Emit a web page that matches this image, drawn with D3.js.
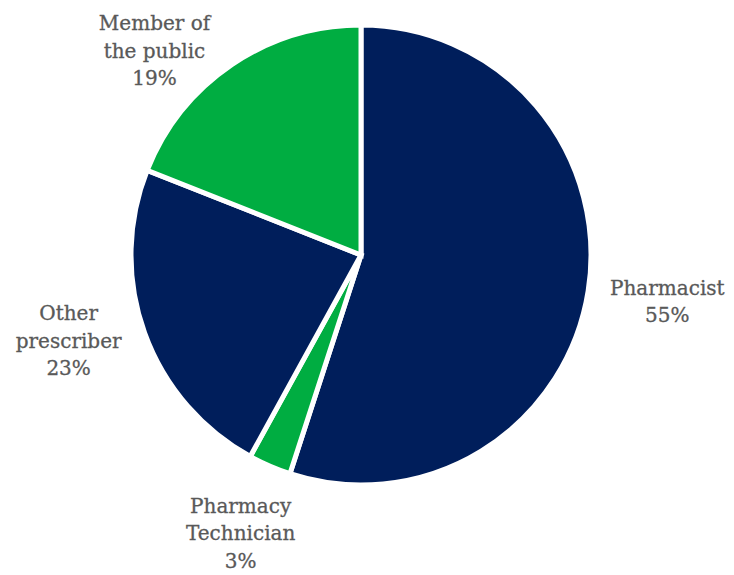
<!DOCTYPE html>
<html>
<head>
<meta charset="utf-8">
<script src="https://cdn.jsdelivr.net/npm/d3@7"></script>
<style>
  html, body { margin: 0; padding: 0; background: #ffffff; }
  svg { display: block; }
</style>
</head>
<body>
<svg id="chart" width="734" height="575"></svg>
<script>
// Who submitted the reports (share of total)
const categories = ["Pharmacist", "Pharmacy Technician", "Other prescriber", "Member of the public"];
const labelLines = [["Pharmacist"], ["Pharmacy", "Technician"], ["Other", "prescriber"], ["Member of", "the public"]];
const shares = [55, 3, 23, 19];
const sliceColors = ["#001e5b", "#00ad41", "#001e5b", "#00ad41"];

const width = 734, height = 575;
const cx = 361, cy = 255, radius = 230;
const labelRadius = 298;
const lineHeight = 27.5;

// small per-label nudges so labels sit clear of the pie edge
const nudge = {
  "Pharmacist": [12, 0],
  "Pharmacy Technician": [-2, 5],
  "Other prescriber": [-12, -15],
  "Member of the public": [-39, 42]
};

const svg = d3.select("#chart");
const g = svg.append("g").attr("transform", `translate(${cx},${cy})`);

const pie = d3.pie().sort(null).value(d => d.value);
const data = categories.map((c, i) => ({ name: c, value: shares[i], lines: labelLines[i], color: sliceColors[i] }));
const arcs = pie(data);

const arc = d3.arc().innerRadius(0).outerRadius(radius);

g.selectAll("path.slice")
  .data(arcs)
  .join("path")
  .attr("class", "slice")
  .attr("d", arc)
  .attr("fill", d => d.data.color)
  .attr("stroke", "#ffffff")
  .attr("stroke-width", 5)
  .attr("stroke-linejoin", "miter");

const labels = g.selectAll("text.label")
  .data(arcs)
  .join("text")
  .attr("class", "label")
  .attr("text-anchor", "middle")
  .attr("font-family", "'DejaVu Serif', 'Liberation Serif', serif")
  .attr("font-size", 20)
  .attr("fill", "#595959")
  .attr("stroke", "#595959")
  .attr("stroke-width", 0.3)
  .attr("transform", d => {
    const a = (d.startAngle + d.endAngle) / 2;
    const n = nudge[d.data.name] || [0, 0];
    const x = Math.sin(a) * labelRadius + n[0];
    const y = -Math.cos(a) * labelRadius + n[1];
    return `translate(${x},${y})`;
  });

labels.each(function(d) {
  const lines = d.data.lines.concat([d3.format(".0f")(d.data.value) + "%"]);
  const t = d3.select(this);
  const top = -((lines.length - 1) * lineHeight) / 2;
  lines.forEach((ln, i) => {
    t.append("tspan")
      .attr("x", 0)
      .attr("y", top + i * lineHeight)
      .attr("dy", "0.35em")
      .text(ln);
  });
});
</script>
</body>
</html>
